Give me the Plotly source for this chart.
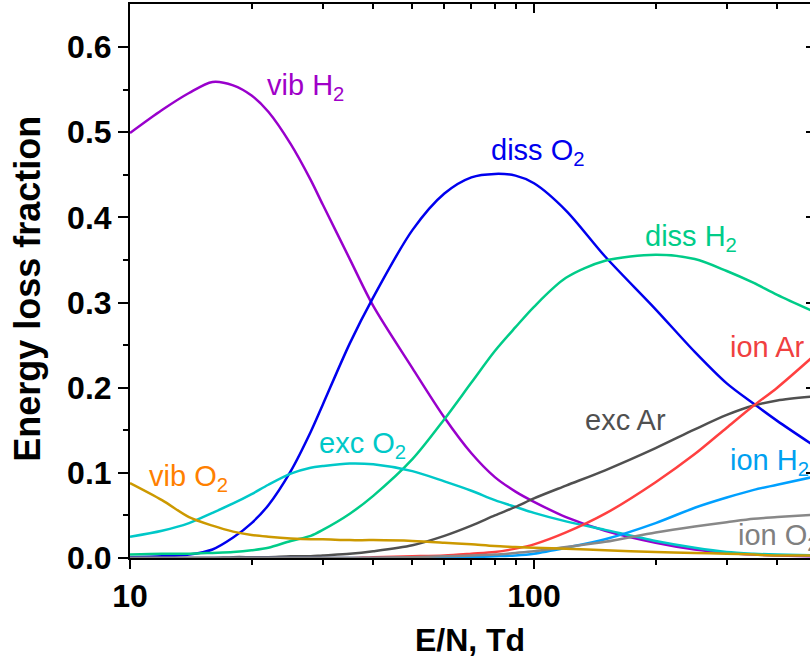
import math
import plotly.graph_objects as go

# ---------------- data ----------------
E_N = [10, 12, 14, 16, 18, 20, 22, 25, 28, 30, 35, 40, 50, 60, 70, 80, 90, 100,
       120, 150, 200, 250, 300, 350, 400, 500]

vib_H2 = [0.499, 0.526, 0.546, 0.559, 0.555, 0.543, 0.524, 0.486, 0.444, 0.415,
          0.351, 0.296, 0.223, 0.165, 0.123, 0.095, 0.078, 0.066, 0.048, 0.032,
          0.018, 0.010, 0.006, 0.004, 0.003, 0.002]
diss_O2 = [0.001, 0.002, 0.004, 0.010, 0.024, 0.041, 0.062, 0.102, 0.148, 0.180,
           0.252, 0.306, 0.385, 0.428, 0.447, 0.451, 0.449, 0.440, 0.408, 0.354,
           0.292, 0.242, 0.205, 0.181, 0.161, 0.130]
diss_H2 = [0.004, 0.005, 0.005, 0.006, 0.007, 0.009, 0.012, 0.020, 0.026, 0.033,
           0.052, 0.073, 0.116, 0.163, 0.206, 0.243, 0.271, 0.295, 0.329, 0.349,
           0.356, 0.351, 0.337, 0.323, 0.309, 0.288]
exc_O2 = [0.025, 0.032, 0.041, 0.053, 0.064, 0.075, 0.086, 0.099, 0.106, 0.108,
          0.111, 0.110, 0.102, 0.090, 0.079, 0.068, 0.060, 0.053, 0.043, 0.033,
          0.020, 0.012, 0.007, 0.005, 0.004, 0.003]
vib_O2 = [0.088, 0.068, 0.048, 0.038, 0.031, 0.027, 0.025, 0.023, 0.022, 0.022,
          0.021, 0.021, 0.020, 0.018, 0.016, 0.014, 0.013, 0.012, 0.011, 0.009,
          0.007, 0.006, 0.005, 0.004, 0.003, 0.003]
exc_Ar = [0.000, 0.000, 0.000, 0.000, 0.001, 0.001, 0.001, 0.002, 0.002, 0.003,
          0.005, 0.008, 0.015, 0.026, 0.038, 0.050, 0.060, 0.070, 0.085, 0.103,
          0.129, 0.151, 0.168, 0.179, 0.185, 0.190]
ion_Ar = [0.000, 0.000, 0.000, 0.000, 0.000, 0.000, 0.000, 0.000, 0.000, 0.000,
          0.000, 0.001, 0.002, 0.003, 0.005, 0.007, 0.011, 0.016, 0.030, 0.052,
          0.089, 0.122, 0.153, 0.179, 0.200, 0.240]
ion_H2 = [0.000, 0.000, 0.000, 0.000, 0.000, 0.000, 0.000, 0.000, 0.000, 0.000,
          0.000, 0.000, 0.000, 0.001, 0.001, 0.002, 0.003, 0.005, 0.012, 0.022,
          0.041, 0.059, 0.071, 0.080, 0.086, 0.096]
ion_O2 = [0.000, 0.000, 0.000, 0.000, 0.000, 0.000, 0.000, 0.000, 0.000, 0.000,
          0.000, 0.000, 0.001, 0.002, 0.003, 0.004, 0.006, 0.008, 0.013, 0.019,
          0.030, 0.037, 0.042, 0.046, 0.048, 0.051]

series = [
    ("vib H2", vib_H2, "#9900CC"),
    ("diss O2", diss_O2, "#0000EE"),
    ("diss H2", diss_H2, "#00CC88"),
    ("exc O2", exc_O2, "#00C8C8"),
    ("exc Ar", exc_Ar, "#505050"),
    ("ion Ar", ion_Ar, "#FF4040"),
    ("ion H2", ion_H2, "#00A0FF"),
    ("ion O2", ion_O2, "#888888"),
    ("vib O2", vib_O2, "#CC9900"),
]

# label text, left x (E/N), middle y, colour
labels = [
    ("vib H<sub>2</sub>", 21.6, 0.553, "#A000C8"),
    ("diss O<sub>2</sub>", 77.5, 0.477, "#0000EE"),
    ("diss H<sub>2</sub>", 186.0, 0.376, "#00CC88"),
    ("ion Ar", 302.0, 0.248, "#F04040"),
    ("exc Ar", 132.0, 0.162, "#505050"),
    ("ion H<sub>2</sub>", 302.0, 0.113, "#00A0F0"),
    ("ion O<sub>2</sub>", 316.0, 0.025, "#808080"),
    ("exc O<sub>2</sub>", 29.0, 0.133, "#00C8C8"),
    ("vib O<sub>2</sub>", 11.0, 0.094, "#FF8000"),
]

major_x = [10, 100]
minor_x = [20, 30, 40, 50, 60, 70, 80, 90, 200, 300, 400]
major_y = [0.0, 0.1, 0.2, 0.3, 0.4, 0.5, 0.6]
minor_y = [0.05, 0.15, 0.25, 0.35, 0.45, 0.55]

X_RANGE = [1.0, 2.6832]
Y_RANGE = [0.0, 0.6505]

FONT = "Liberation Sans, Arial, sans-serif"

fig = go.Figure()
for name, ys, col in series:
    fig.add_trace(go.Scatter(x=E_N, y=ys, mode="lines", name=name,
                             line=dict(color=col, width=2.5, shape="spline", smoothing=0.85),
                             showlegend=False, hoverinfo="skip"))

# invisible trace to carry the mirror axes
fig.add_trace(go.Scatter(x=[20], y=[0.1], xaxis="x2", yaxis="y2", mode="markers",
                         marker=dict(opacity=0), showlegend=False, hoverinfo="skip"))

for text, xv, yv, col in labels:
    fig.add_annotation(x=math.log10(xv), y=yv, xref="x", yref="y", text=text,
                       showarrow=False, xanchor="left", yanchor="middle",
                       font=dict(family=FONT, size=29, color=col))

# y-axis title as rotated text
fig.add_annotation(x=-0.150, y=0.486, xref="paper", yref="paper",
                   text="Energy loss fraction", textangle=-90, showarrow=False,
                   xanchor="center", yanchor="middle",
                   font=dict(family=FONT, size=36, color="black", weight="bold"))

tickfont = dict(family=FONT, size=32, color="black", weight="bold")

fig.update_layout(
    width=810, height=664,
    margin=dict(l=130, r=0, t=4, b=106, autoexpand=False),
    paper_bgcolor="white", plot_bgcolor="white",
    xaxis=dict(type="log", range=X_RANGE, showline=True, linecolor="black", linewidth=2,
               automargin=False,
               ticks="outside", ticklen=9, tickwidth=2, tickcolor="black",
               tickmode="array", tickvals=major_x, ticktext=["10", "100"],
               tickfont=tickfont, showgrid=False, zeroline=False,
               minor=dict(tickmode="array", tickvals=minor_x, ticks="outside", ticklen=5,
                          tickwidth=2, tickcolor="black", showgrid=False),
               title=dict(text="E/N, Td", font=dict(family=FONT, size=32, color="black", weight="bold"),
                          standoff=15)),
    yaxis=dict(range=Y_RANGE, showline=True, linecolor="black", linewidth=2,
               automargin=False,
               ticks="outside", ticklen=10, tickwidth=2, tickcolor="black",
               tickmode="array", tickvals=major_y, ticktext=[f"{v:.1f}" for v in major_y],
               tickfont=tickfont, showgrid=False, zeroline=False,
               minor=dict(tickmode="array", tickvals=minor_y, ticks="outside", ticklen=5,
                          tickwidth=2, tickcolor="black", showgrid=False)),
    xaxis2=dict(type="log", range=X_RANGE, overlaying="x", side="top", anchor="y",
                automargin=False,
                showline=True, linecolor="black", linewidth=2,
                ticks="inside", ticklen=9, tickwidth=2, tickcolor="black",
                tickmode="array", tickvals=major_x, showticklabels=False,
                showgrid=False, zeroline=False,
                minor=dict(tickmode="array", tickvals=minor_x, ticks="inside", ticklen=5,
                           tickwidth=2, tickcolor="black", showgrid=False)),
    yaxis2=dict(range=Y_RANGE, overlaying="y", side="right", anchor="x",
                automargin=False,
                showline=False, ticks="inside", ticklen=4, tickwidth=2, tickcolor="black",
                tickmode="array", tickvals=major_y[1:], showticklabels=False,
                showgrid=False, zeroline=False),
)

# the page's default 8px body margin would shift the whole figure
fig.write_html("out.html", config={"displayModeBar": False},
               post_script="document.body.style.margin='0';document.body.style.overflow='hidden';")
